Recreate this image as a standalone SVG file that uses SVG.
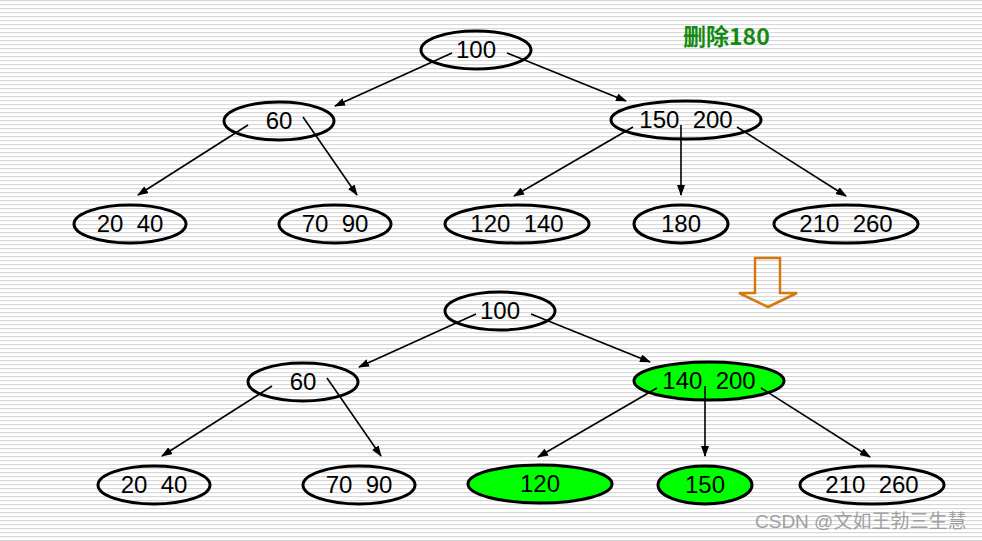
<svg xmlns="http://www.w3.org/2000/svg" width="982" height="541" viewBox="0 0 982 541">
<style>
.n{fill:none;stroke:#000;stroke-width:3}
.g{fill:#00ff00;stroke:#000;stroke-width:3}
.t{font-family:"Liberation Sans",Arial,sans-serif;font-size:24px;fill:#000;text-anchor:middle}
.c line{stroke:#000;stroke-width:1.6;marker-end:url(#ah)}
</style>
<defs>
<pattern id="st" width="4" height="4" patternUnits="userSpaceOnUse">
<rect width="4" height="4" fill="#fff"/>
<rect y="0" width="4" height="1.2" fill="#d8d8d8"/>
</pattern>
<marker id="ah" markerWidth="11" markerHeight="8" refX="10" refY="4" orient="auto" markerUnits="userSpaceOnUse">
<path d="M0,0 L11,4 L0,8 Z" fill="#000"/>
</marker>
</defs>
<rect width="982" height="541" fill="url(#st)"/>

<text x="683" y="45" font-family="'Noto Sans CJK SC','Liberation Sans',sans-serif" font-size="23" font-weight="bold" fill="#138a13">删除180</text>

<g id="t100"><ellipse class="n" cx="476" cy="50" rx="55" ry="19"/><text class="t" x="476" y="58">100</text></g>
<g id="t60"><ellipse class="n" cx="279" cy="121" rx="55" ry="19"/><text class="t" x="279" y="129">60</text></g>
<g id="t150_200"><ellipse class="n" cx="686" cy="120" rx="75" ry="19"/><text class="t" x="686" y="128" xml:space="preserve">150  200</text></g>
<g id="t20_40"><ellipse class="n" cx="130" cy="224" rx="56" ry="19"/><text class="t" x="130" y="232" xml:space="preserve">20  40</text></g>
<g id="t70_90"><ellipse class="n" cx="335" cy="224" rx="56" ry="19"/><text class="t" x="335" y="232" xml:space="preserve">70  90</text></g>
<g id="t120_140"><ellipse class="n" cx="517" cy="224" rx="72" ry="19"/><text class="t" x="517" y="232" xml:space="preserve">120  140</text></g>
<g id="t180"><ellipse class="n" cx="681" cy="224" rx="47" ry="19"/><text class="t" x="681" y="232">180</text></g>
<g id="t210_260"><ellipse class="n" cx="846" cy="224" rx="72" ry="19"/><text class="t" x="846" y="232" xml:space="preserve">210  260</text></g>

<polygon points="755,258 780,258 780,293 797,293 768,307 739,293 755,293" fill="none" stroke="#d4780f" stroke-width="2.5"/>

<g id="b100"><ellipse class="n" cx="500" cy="311" rx="55" ry="19"/><text class="t" x="500" y="319">100</text></g>
<g id="b60"><ellipse class="n" cx="303" cy="382" rx="55" ry="19"/><text class="t" x="303" y="390">60</text></g>
<g id="b140_200"><ellipse class="g" cx="709" cy="381" rx="75" ry="19"/><text class="t" x="709" y="389" xml:space="preserve">140  200</text></g>
<g id="b20_40"><ellipse class="n" cx="154" cy="485" rx="56" ry="19"/><text class="t" x="154" y="493" xml:space="preserve">20  40</text></g>
<g id="b70_90"><ellipse class="n" cx="359" cy="485" rx="56" ry="19"/><text class="t" x="359" y="493" xml:space="preserve">70  90</text></g>
<g id="b120"><ellipse class="g" cx="540" cy="484" rx="72" ry="19"/><text class="t" x="540" y="492">120</text></g>
<g id="b150"><ellipse class="g" cx="705" cy="485" rx="47" ry="19"/><text class="t" x="705" y="493">150</text></g>
<g id="b210_260"><ellipse class="n" cx="872" cy="485" rx="72" ry="19"/><text class="t" x="872" y="493" xml:space="preserve">210  260</text></g>

<g id="connectors" class="c">
<line x1="452" y1="53" x2="335" y2="106"/>
<line x1="507" y1="53" x2="626" y2="101"/>
<line x1="248" y1="125" x2="138" y2="195"/>
<line x1="303" y1="117" x2="357" y2="195"/>
<line x1="633" y1="127" x2="514" y2="196"/>
<line x1="681" y1="125" x2="681" y2="195"/>
<line x1="737" y1="127" x2="846" y2="196"/>
<line x1="476" y1="314" x2="359" y2="367"/>
<line x1="531" y1="314" x2="650" y2="362"/>
<line x1="272" y1="386" x2="162" y2="456"/>
<line x1="327" y1="378" x2="381" y2="456"/>
<line x1="657" y1="388" x2="538" y2="457"/>
<line x1="705" y1="386" x2="705" y2="456"/>
<line x1="761" y1="388" x2="870" y2="457"/>
</g>

<text x="755" y="528" font-family="'Liberation Sans','Noto Sans CJK SC',sans-serif" font-size="19" fill="#a0a0a0">CSDN @文如王勃三生慧</text>
</svg>
